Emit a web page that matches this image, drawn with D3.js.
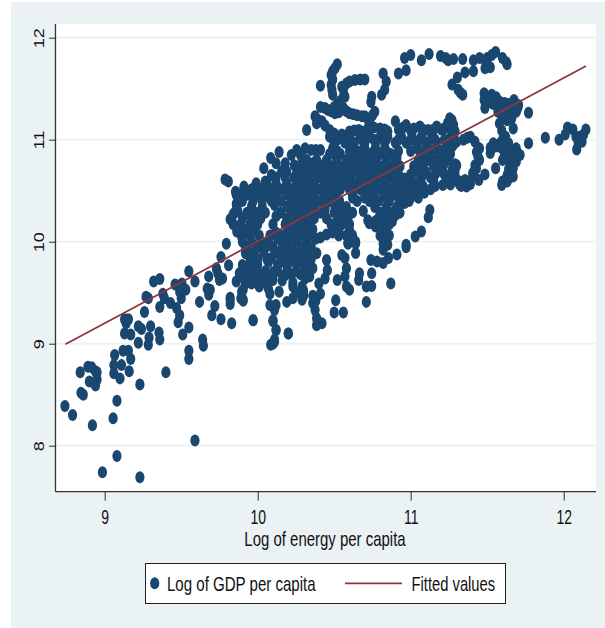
<!DOCTYPE html>
<html>
<head>
<meta charset="utf-8">
<script src="https://cdn.jsdelivr.net/npm/d3@7"></script>
<style>
  html, body { margin: 0; padding: 0; background: #fff; }
  text { font-family: "Liberation Sans", Arial, sans-serif; fill: #111; }
</style>
</head>
<body>
<script>
// [log energy, log gdp]
const lowTail = [[8.74,8.39],[8.79,8.30],[8.92,8.20],[8.985,7.74],[9.08,7.90],[9.23,7.69],[9.59,8.05],[9.055,8.27],[9.08,8.44],
  [8.84,8.72],[8.845,8.52],[8.86,8.50],[8.89,8.775],[8.915,8.77],[8.94,8.73],[8.95,8.72],[8.90,8.63],[8.93,8.62],[8.95,8.65],[8.94,8.59],
  [9.06,8.79],[9.065,8.89],[9.06,8.71],[9.10,8.66],[9.11,8.79],[9.12,8.93],[9.155,8.93],[9.17,8.85],[9.16,8.73],[9.23,8.60],[9.40,8.72],
  [9.22,9.01],[9.285,8.99],[9.29,9.06],[9.355,9.11],[9.36,9.04],[9.30,9.17],[9.22,9.17],[9.24,9.145],[9.13,9.10],[9.17,9.09],[9.14,9.20],
  [9.48,9.21],[9.51,9.09],[9.55,9.16],[9.55,8.93],[9.55,8.85],[9.64,9.04],[9.645,8.98],[9.76,9.24],[9.83,9.20],[9.97,9.23],
  [10.085,8.99],[10.11,9.02],[10.12,9.135],[10.20,9.10],[10.10,9.22],[9.155,9.24],[9.13,9.24],[9.26,9.31],[9.285,9.445],[9.27,9.46],
  [9.32,9.61],[9.36,9.635],[9.38,9.49],[9.36,9.36],[9.39,9.445],[9.43,9.40],[9.47,9.35],[9.49,9.28],[9.46,9.58],[9.505,9.59],[9.53,9.53],
  [9.49,9.51],[9.50,9.445],[9.55,9.71],[9.59,9.61],[9.62,9.41],[9.67,9.54],[9.69,9.53],[9.68,9.48],[9.68,9.66],[9.72,9.37],[9.70,9.28],
  [9.73,9.74],[9.74,9.69],[9.77,9.64],[9.75,9.625],[9.81,9.77],[9.76,9.85],[9.82,9.45],[9.82,9.39],[9.89,9.445],[9.905,9.42],[9.905,9.53],
  [9.795,9.98],[9.787,10.61],[9.808,10.59]];

const leftCore = [[9.855,10.49],[9.91,10.54],[9.95,10.50],[10.00,10.53],[10.05,10.59],[10.157,10.69],[10.09,10.655],[9.863,10.33],[9.83,10.21],
  [9.863,10.10],[9.895,10.05],[10.19,10.687],[10.255,10.687],[9.99,10.573],[10.06,10.573],[10.12,10.573],[10.19,10.573],[10.255,10.573],
  [9.86,10.46],[9.93,10.46],[10.0,10.46],[10.06,10.46],[10.124,10.46],[10.19,10.46],[10.255,10.46],[9.87,10.30],[9.96,10.35],[10.03,10.34],
  [10.11,10.36],[10.19,10.344],[10.255,10.344],[9.90,10.23],[9.96,10.23],[10.02,10.23],[10.12,10.25],[10.19,10.23],[10.255,10.23],
  [9.92,10.115],[9.98,10.115],[10.12,10.09],[10.20,10.11],[10.255,10.115],[9.96,10.0],[10.02,10.0],[10.07,10.0],[10.13,10.03],[10.19,10.0],
  [10.255,10.0],[10.32,10.0],[9.92,9.887],[9.97,9.887],[10.04,9.90],[10.13,9.89],[10.19,9.887],[10.255,9.887],[10.32,9.887],
  [10.386,9.887],[9.90,9.772],[9.95,9.772],[10.0,9.772],[10.07,9.80],[10.13,9.77],[10.19,9.772],[10.255,9.772],[10.32,9.772],[10.01,9.68],
  [9.95,9.70],[9.90,9.66],[10.10,9.70],[10.16,9.62],[10.22,9.68],[10.28,9.68],[10.34,9.66],[10.23,9.60],
  [10.12,10.63],[10.18,10.63],[10.24,10.63],[10.29,10.63],[10.24,10.75],[10.28,10.75],[10.22,10.85],[10.28,10.85],
  [9.91,10.515],[9.96,10.515],[10.03,10.515],[10.09,10.515],[10.15,10.515],[10.22,10.515],[10.28,10.515],
  [9.90,10.40],[9.97,10.40],[10.03,10.40],[10.09,10.40],[10.15,10.40],[10.22,10.40],[10.28,10.40],
  [9.85,10.285],[9.93,10.285],[9.99,10.285],[10.05,10.285],[10.15,10.285],[10.22,10.285],[10.28,10.285],
  [9.84,10.17],[9.89,10.17],[9.95,10.17],[10.0,10.17],[10.10,10.17],[10.18,10.17],[10.22,10.17],[10.28,10.17],
  [9.90,10.06],[9.95,10.06],[10.01,10.06],[10.08,10.06],[10.16,10.06],[10.22,10.06],[10.28,10.06],[10.33,10.06],
  [9.93,9.945],[10.0,9.945],[10.05,9.945],[10.10,9.945],[10.16,9.945],[10.22,9.945],[10.29,9.945],[10.35,9.945],
  [9.95,9.83],[10.0,9.83],[10.06,9.83],[10.16,9.83],[10.22,9.83],[10.29,9.83],[10.35,9.83],
  [9.92,9.71],[9.98,9.71],[10.05,9.71],[10.13,9.71],[10.19,9.71],[10.25,9.71],[10.31,9.71],
  [9.86,10.37],[9.84,10.27],[9.88,10.42],[9.82,10.22],[9.88,10.15],[9.90,10.0],[9.92,9.95],[9.94,9.65],[9.98,9.62],[10.06,9.68]];

const lowerCore = [[10.87,9.59],[10.71,9.41],[10.56,9.305],[10.50,9.305],[10.51,9.425],[9.97,9.23],[10.20,9.10],[10.11,9.04],[10.10,9.00],
  [10.12,9.135],[10.10,9.23],[10.11,9.33],[10.08,9.38],[10.12,9.38],[10.385,9.18],[10.42,9.20],[10.385,9.25],[10.375,9.33],[10.36,9.40],
  [10.41,9.49],[10.29,9.43],[10.23,9.445],[10.19,9.41],[10.14,9.51],[10.08,9.49],[10.07,9.54],[10.10,9.625],[9.905,9.43],[9.895,9.51],
  [9.86,9.61],[9.88,9.69],[9.82,9.43],[10.01,9.56],[9.96,9.59],[9.92,9.59],[10.18,9.67],[10.23,9.56],[10.29,9.56],[10.31,9.64],
  [10.40,9.59],[10.44,9.64],[10.455,9.72],[10.45,9.82],[10.36,9.74],[10.31,9.755],[10.255,9.79],[10.20,9.79],[10.15,9.80],[10.09,9.84],
  [10.52,9.625],[10.58,9.56],[10.60,9.53],[10.57,9.66],[10.58,9.74],[10.57,9.84],[10.55,9.87],[10.64,9.89],[10.64,10.0],[10.59,9.98],
  [10.66,9.625],[10.665,9.69],[10.71,9.56],[10.745,9.565],[10.745,9.69],[10.74,9.82],[10.78,9.805],[10.82,9.79],[10.855,9.84],[10.91,9.875],
  [10.97,9.945],[10.82,9.92],[10.83,10.02],[10.84,10.08],[10.03,9.60],[10.05,9.62],[10.27,9.50],[10.30,9.47],[10.30,9.52],[10.25,9.50],
  [10.36,9.47],[10.38,9.42],[10.38,10.03],[10.41,10.04],[10.45,10.07],[10.49,10.09]];

const mainCore = [[10.47,11.03],[10.54,11.03],[10.60,11.03],[10.67,11.03],[10.73,11.03],[10.80,11.03],[10.85,11.03],[10.94,11.03],[11.01,11.03],
  [11.07,11.03],[11.14,11.03],[11.26,11.02],[10.49,10.915],[10.64,10.90],[10.70,10.915],[10.77,10.915],[10.83,10.915],[11.04,10.915],
  [11.10,10.915],[11.17,10.915],[11.23,10.915],[10.32,10.80],[10.385,10.80],[10.45,10.80],[10.515,10.80],[10.58,10.80],[10.645,10.80],
  [10.71,10.80],[10.775,10.80],[10.84,10.80],[10.91,10.82],[11.05,10.80],[11.115,10.80],[11.18,10.80],[11.245,10.80],[10.31,10.686],
  [10.37,10.686],[10.44,10.686],[10.505,10.686],[10.57,10.686],[10.635,10.686],[10.70,10.686],[10.765,10.686],[10.83,10.686],[10.895,10.686],
  [10.96,10.62],[11.04,10.686],[11.10,10.686],[11.17,10.686],[11.27,10.70],[10.31,10.57],[10.37,10.57],[10.44,10.57],[10.505,10.57],
  [10.57,10.57],[10.635,10.57],[10.70,10.57],[10.765,10.57],[10.83,10.57],[10.90,10.57],[10.96,10.53],[11.03,10.57],[11.09,10.48],[11.15,10.60],
  [11.21,10.555],[11.24,10.58],[10.31,10.46],[10.37,10.46],[10.44,10.46],[10.505,10.44],[10.62,10.46],[10.70,10.46],[10.755,10.46],[10.83,10.46],
  [10.90,10.46],[10.96,10.46],[11.03,10.46],[10.31,10.34],[10.37,10.34],[10.44,10.34],[10.505,10.34],[10.58,10.34],[10.765,10.34],[10.84,10.34],
  [10.91,10.34],[10.96,10.38],[10.31,10.23],[10.37,10.23],[10.45,10.23],[10.56,10.23],[10.59,10.25],[10.72,10.21],[10.77,10.20],[10.79,10.23],
  [10.83,10.26],[10.90,10.26],[10.875,10.25],[10.69,10.30],[10.31,10.115],[10.53,10.115],[10.60,10.115],[10.77,10.15],[10.73,10.18],
  [11.125,10.31],[11.115,10.24],[11.07,10.10],[11.03,10.05],[10.97,9.97],[10.83,10.08],[10.82,9.98],[10.85,9.97],[10.59,9.99],[10.64,9.985],
  [10.14,10.88],[10.085,10.82],[10.04,10.72],[10.12,10.77],[10.18,10.77],[10.255,10.90],[10.31,10.915],[10.41,10.90],
  [10.50,10.97],[10.57,10.97],[10.63,10.97],[10.70,10.97],[10.77,10.97],[10.83,10.97],[10.90,10.97],[10.97,10.97],[11.04,10.97],[11.11,10.97],
  [11.17,10.97],[11.24,10.97],[11.27,10.97],[10.47,10.86],[10.54,10.86],[10.61,10.86],[10.67,10.86],[10.74,10.86],[10.80,10.86],[10.87,10.86],
  [11.08,10.86],[11.14,10.86],[11.21,10.86],[11.26,10.86],[10.35,10.90],[10.38,10.90],[10.34,10.74],[10.41,10.74],[10.48,10.74],[10.54,10.74],
  [10.61,10.74],[10.67,10.74],[10.74,10.74],[10.80,10.74],[10.87,10.74],[10.93,10.74],[11.02,10.74],[11.08,10.74],[11.15,10.74],[11.21,10.74],
  [11.29,10.76],[10.34,10.63],[10.41,10.63],[10.47,10.63],[10.54,10.63],[10.60,10.63],[10.67,10.63],[10.73,10.63],[10.80,10.63],[10.86,10.63],
  [10.93,10.63],[11.0,10.63],[11.07,10.63],[11.13,10.63],[11.27,10.63],[11.28,10.66],[10.34,10.515],[10.41,10.515],[10.47,10.515],[10.54,10.515],
  [10.60,10.515],[10.67,10.515],[10.73,10.515],[10.80,10.515],[10.86,10.515],[10.93,10.515],[11.0,10.515],[11.06,10.515],[11.13,10.515],[11.26,10.56],
  [10.34,10.40],[10.41,10.40],[10.47,10.40],[10.535,10.40],[10.65,10.40],[10.73,10.40],[10.79,10.40],[10.86,10.40],[10.93,10.40],[10.99,10.40],
  [10.34,10.285],[10.41,10.285],[10.50,10.285],[10.53,10.285],[10.62,10.285],[10.80,10.285],[10.87,10.285],[10.93,10.285],
  [10.34,10.17],[10.48,10.17],[10.55,10.17],[10.60,10.17],[10.81,10.17],[10.86,10.17],[10.34,10.06],[10.53,10.06],[10.58,10.06],[10.62,10.06],
  [10.80,10.06],[10.86,10.06]];

// dense middle, where the dots run together
const coreFill = [[10.52,11.0],[10.60,11.0],[10.68,11.0],[10.76,11.0],[10.84,11.0],[10.92,11.0],[11.0,11.0],[11.08,11.0],[11.16,11.0],[11.22,11.0],
  [10.52,10.89],[10.60,10.89],[10.68,10.89],[10.76,10.89],[10.84,10.89],[10.92,10.89],[11.0,10.89],[11.06,10.89],[11.14,10.89],[11.20,10.89],
  [10.36,10.77],[10.44,10.77],[10.52,10.77],[10.60,10.77],[10.68,10.77],[10.76,10.77],[10.84,10.77],[10.90,10.77],[11.08,10.77],[11.16,10.77],[11.22,10.77],
  [10.36,10.66],[10.44,10.66],[10.52,10.66],[10.60,10.66],[10.68,10.66],[10.76,10.66],[10.84,10.66],[10.92,10.66],[11.0,10.66],[11.08,10.66],[11.16,10.66],[11.22,10.66],
  [10.36,10.545],[10.44,10.545],[10.52,10.545],[10.60,10.545],[10.68,10.545],[10.76,10.545],[10.84,10.545],[10.92,10.545],[11.0,10.545],[11.08,10.545],[11.16,10.545],
  [10.36,10.43],[10.44,10.43],[10.62,10.43],[10.70,10.43],[10.76,10.43],[10.84,10.43],[10.92,10.43],[11.0,10.43],[11.05,10.43],
  [10.36,10.31],[10.44,10.31],[10.56,10.31],[10.84,10.31],[10.90,10.31],[10.34,10.20],[10.52,10.20],[10.82,10.20],[10.88,10.20],[10.36,10.12]];

const upperBand = [[10.96,11.80],[11.0,11.83],[11.07,11.78],[11.12,11.84],[11.195,11.82],[11.23,11.80],[11.245,11.78],[11.28,11.79],[11.34,11.79],
  [11.41,11.78],[11.45,11.80],[11.486,11.78],[11.50,11.80],[11.53,11.83],[11.555,11.86],[11.60,11.80],[11.625,11.76],[11.63,11.74],[11.486,11.70],
  [11.52,11.71],[11.50,11.74],[11.41,11.67],[11.355,11.66],[11.305,11.61],[11.27,11.54],[11.31,11.49],[11.34,11.44],[11.325,11.46],
  [10.92,11.65],[10.97,11.68],[10.82,11.65],[10.84,11.57],[10.83,11.49],[10.81,11.44],[10.745,11.42],[10.74,11.37],[10.52,11.74],[10.49,11.67],
  [10.48,11.635],[10.41,11.53],[10.48,11.54],[10.49,11.44],[10.56,11.49],[10.58,11.55],[10.635,11.585],[10.67,11.59],[10.70,11.59],[10.57,11.42],
  [10.41,11.32],[10.46,11.29],[10.505,11.26],[10.56,11.31],[10.60,11.26],[10.65,11.24],[10.70,11.23],[10.765,11.275],[10.735,11.21],
  [10.375,11.23],[10.385,11.16],[10.42,11.18],[10.47,11.095],[10.32,11.095],[10.55,11.05],[10.66,11.095],[10.72,11.11],[10.80,11.11],[10.85,11.08],
  [10.90,11.18],[10.97,11.145],[11.02,11.11],[11.06,11.13],[11.115,11.095],[11.17,11.13],[11.22,11.11],[11.255,11.21],[11.28,11.145],[11.29,11.08],
  [10.44,11.31],[10.48,11.28],[10.53,11.27],[10.58,11.28],[10.625,11.25],[10.68,11.23],[10.72,11.20],[10.75,11.24],[10.39,11.20],[10.44,11.14],
  [10.50,11.06],[10.49,11.59],[10.485,11.49],[10.50,11.32],[10.52,11.35],[10.54,11.38],[10.56,11.42],[10.60,11.57],[10.55,11.52],[10.505,11.70],
  [10.60,11.08],[10.63,11.09],[10.68,11.08],[10.76,11.12],[10.83,11.10],[10.92,11.10],[10.95,11.12],[11.0,11.09],[11.08,11.10],[11.15,11.10],
  [11.20,11.10],[11.24,11.16],[11.27,11.19],[11.27,11.08]];

const rightTail = [[11.48,11.455],[11.48,11.39],[11.485,11.31],[11.53,11.44],[11.52,11.37],[11.56,11.415],[11.585,11.37],[11.615,11.36],[11.675,11.39],
  [11.705,11.34],[11.69,11.275],[11.66,11.21],[11.63,11.19],[11.58,11.16],[11.57,11.275],[11.77,11.265],[11.67,11.11],[11.595,11.09],[11.62,11.03],
  [11.54,10.965],[11.52,10.92],[11.52,10.87],[11.585,10.965],[11.64,10.965],[11.605,10.90],[11.65,10.90],[11.69,10.915],[11.715,10.85],[11.69,10.785],
  [11.64,10.82],[11.65,10.75],[11.66,10.69],[11.67,10.64],[11.63,10.59],[11.595,10.555],[11.60,10.59],[11.77,10.965],[11.88,11.02],[11.97,11.0],
  [12.01,11.05],[12.025,11.12],[12.06,11.10],[12.08,11.03],[12.105,11.03],[12.145,11.10],[12.13,11.05],[12.095,10.965],[12.085,10.905],[12.12,10.98],
  [11.555,10.72],[11.485,10.66],[11.445,10.605],[11.39,10.565],[11.345,10.555],[11.32,10.59],[11.355,10.605],[11.365,10.54],[11.29,10.70],
  [11.415,10.69],[11.42,10.75],[11.44,10.835],[11.45,10.915],[11.42,10.98],[11.39,11.03],[11.345,11.0],[11.30,10.98],[11.27,10.93],[11.405,10.67],
  [11.58,10.93],[11.62,10.87],[11.67,10.86],[11.60,10.80],[11.66,10.80],[11.64,10.71],[11.67,10.72],[11.63,10.65],[11.64,10.62],[11.60,11.0],[11.55,10.93],
  [11.50,11.37],[11.54,11.35],[11.60,11.34],[11.64,11.35],[11.66,11.30],[11.63,11.25],[11.60,11.22],[11.70,11.31],[11.69,11.33],
  [11.37,11.02],[11.43,10.88],[11.45,10.80],[11.43,10.72],[11.41,10.64],[11.28,10.95],[11.27,11.0],[11.30,10.75],[11.29,10.65],[11.30,10.60],
  [11.32,10.56],[11.36,10.58],[11.38,10.59],[11.33,10.545]];

const fittedEnergy = [8.743, 12.146];
const fittedGdp = [8.995, 11.723];

const xTicks = [9, 10, 11, 12];
const yTicks = [8, 9, 10, 11, 12];
const xTitle = 'Log of energy per capita';
const gdpLabel = 'Log of GDP per capita';
const fitLabel = 'Fitted values';

const navy = '#1a476f', maroon = '#90353b', shade = '#eaf2f3', ink = '#333';

const SVG = d3.select('body')
              .append('svg')
              .attr('width', 605)
              .attr('height', 628)
              .style('display', 'block');

// background panel and plot region
SVG.append('rect').attr('x', 11).attr('y', 2).attr('width', 594).attr('height', 626).attr('fill', shade);
SVG.append('rect').attr('x', 55.5).attr('y', 24).attr('width', 540.5).attr('height', 467.7).attr('fill', '#fff');

// x- and y-scales (9..12 = 104.7..563.7, 8..12 = 445.7..37.7)
const xScale = d3.scaleLinear().domain([9, 12]).range([104.7, 563.7]);
const yScale = d3.scaleLinear().domain([8, 12]).range([445.7, 37.7]);

// gridlines
SVG.append('g')
   .selectAll('line')
   .data(yTicks)
   .enter()
   .append('line')
   .attr('x1', 55.5)
   .attr('x2', 596)
   .attr('y1', d => yScale(d))
   .attr('y2', d => yScale(d))
   .attr('stroke', shade)
   .attr('stroke-width', 1.8);

// scatter
const points = [...lowTail, ...leftCore, ...lowerCore, ...mainCore, ...coreFill, ...upperBand, ...rightTail];
SVG.append('g')
   .selectAll('ellipse')
   .data(points)
   .enter()
   .append('ellipse')
   .attr('cx', d => xScale(d[0]))
   .attr('cy', d => yScale(d[1]))
   .attr('rx', 4.6)
   .attr('ry', 6)
   .attr('fill', navy);

// fitted line
const fitLine = d3.line().x(d => xScale(d[0])).y(d => yScale(d[1]));
SVG.append('path')
   .datum(fittedEnergy.map((e, i) => [e, fittedGdp[i]]))
   .attr('d', fitLine)
   .attr('fill', 'none')
   .attr('stroke', maroon)
   .attr('stroke-width', 1.8);

// x-axis
const xAxis = d3.axisBottom(xScale).tickValues(xTicks).tickFormat(d3.format('d')).tickSize(9).tickSizeOuter(0);
const gx = SVG.append('g').attr('transform', 'translate(0,491.7)').call(xAxis);
gx.select('.domain').remove();
gx.append('line').attr('x1', 55.5).attr('x2', 596).attr('stroke', ink).attr('stroke-width', 1.3);
gx.selectAll('.tick line').attr('stroke', ink).attr('stroke-width', 1);
gx.selectAll('.tick text')
  .attr('y', 0).attr('dy', 0)
  .attr('transform', 'translate(0,32.3) scale(0.7,1)')
  .attr('font-size', 20)
  .attr('font-family', null);

// y-axis
const yAxis = d3.axisLeft(yScale).tickValues(yTicks).tickFormat(d3.format('d')).tickSize(6.5).tickSizeOuter(0);
const gy = SVG.append('g').attr('transform', 'translate(55.5,0)').call(yAxis);
gy.select('.domain').remove();
gy.append('line').attr('y1', 24).attr('y2', 491.7).attr('stroke', ink).attr('stroke-width', 1.3);
gy.selectAll('.tick line').attr('stroke', ink).attr('stroke-width', 1);
gy.selectAll('.tick text')
  .attr('x', 0).attr('y', 0).attr('dy', 0)
  .attr('text-anchor', 'middle')
  .attr('transform', 'translate(-12,0) scale(0.85,1) rotate(-90)')
  .attr('font-size', 18)
  .attr('font-family', null);

// axis title
SVG.append('text')
   .attr('transform', 'translate(325,546) scale(0.73,1)')
   .attr('text-anchor', 'middle')
   .attr('font-size', 20.5)
   .text(xTitle);

// legend
SVG.append('rect')
   .attr('x', 145.5).attr('y', 563.5).attr('width', 360).attr('height', 40)
   .attr('fill', '#fff').attr('stroke', '#222').attr('stroke-width', 1);
SVG.append('ellipse')
   .attr('cx', 154.7).attr('cy', 583.3).attr('rx', 4.6).attr('ry', 6).attr('fill', navy);
SVG.append('text')
   .attr('transform', 'translate(167,591) scale(0.735,1)')
   .attr('font-size', 20.5)
   .text(gdpLabel);
SVG.append('line')
   .attr('x1', 345).attr('x2', 402).attr('y1', 583.3).attr('y2', 583.3)
   .attr('stroke', maroon).attr('stroke-width', 1.8);
SVG.append('text')
   .attr('transform', 'translate(411.5,591) scale(0.72,1)')
   .attr('font-size', 20.5)
   .text(fitLabel);
</script>
</body>
</html>
